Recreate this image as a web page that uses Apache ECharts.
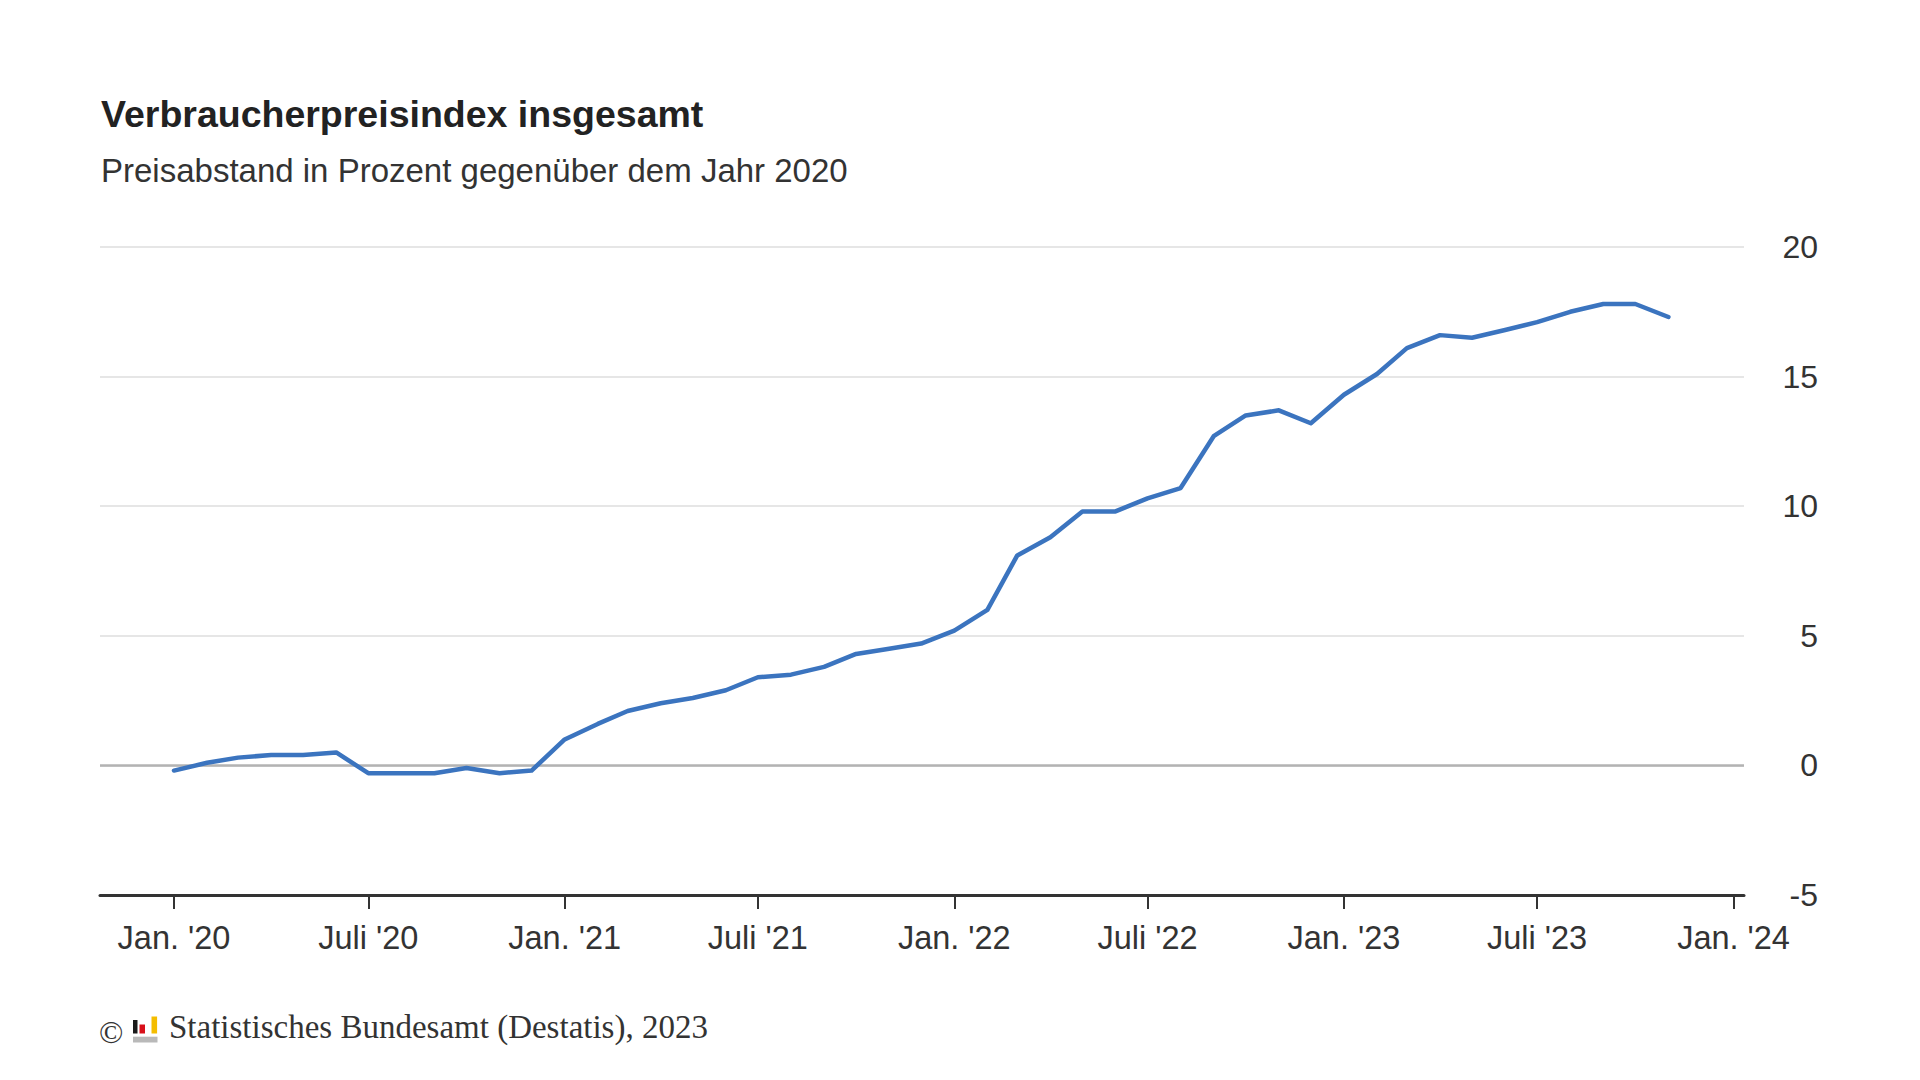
<!DOCTYPE html>
<html>
<head>
<meta charset="utf-8">
<script src="https://cdn.jsdelivr.net/npm/echarts@6/dist/echarts.min.js"></script>
<style>
html,body{margin:0;padding:0;background:#ffffff;}
#chart{width:1920px;height:1080px;}
</style>
</head>
<body>
<div id="chart"></div>
<script>
// ---- data ----
const months = [
  '2020-01','2020-02','2020-03','2020-04','2020-05','2020-06','2020-07','2020-08','2020-09','2020-10','2020-11','2020-12',
  '2021-01','2021-02','2021-03','2021-04','2021-05','2021-06','2021-07','2021-08','2021-09','2021-10','2021-11','2021-12',
  '2022-01','2022-02','2022-03','2022-04','2022-05','2022-06','2022-07','2022-08','2022-09','2022-10','2022-11','2022-12',
  '2023-01','2023-02','2023-03','2023-04','2023-05','2023-06','2023-07','2023-08','2023-09','2023-10','2023-11'
];
const values = [
  -0.2, 0.1, 0.3, 0.4, 0.4, 0.5, -0.3, -0.3, -0.3, -0.1, -0.3, -0.2,
  1.0, 1.6, 2.1, 2.4, 2.6, 2.9, 3.4, 3.5, 3.8, 4.3, 4.5, 4.7,
  5.2, 6.0, 8.1, 8.8, 9.8, 9.8, 10.3, 10.7, 12.7, 13.5, 13.7, 13.2,
  14.3, 15.1, 16.1, 16.6, 16.5, 16.8, 17.1, 17.5, 17.8, 17.8, 17.3
];
const tickMonths = ['2020-01','2020-07','2021-01','2021-07','2022-01','2022-07','2023-01','2023-07','2024-01'];
const tickLabels = ["Jan. '20","Juli '20","Jan. '21","Juli '21","Jan. '22","Juli '22","Jan. '23","Juli '23","Jan. '24"];
const yMin = -5, yMax = 20, yStep = 5;
const titleText = 'Verbraucherpreisindex insgesamt';
const subtitleText = 'Preisabstand in Prozent gegenüber dem Jahr 2020';
const sourceText = 'Statistisches Bundesamt (Destatis), 2023';

// ---- helpers: x position = days since 1 Jan 2020 (UTC, no DST issues) ----
function toDay(ym) {
  const p = ym.split('-');
  return Math.round((Date.UTC(+p[0], +p[1] - 1, 1) - Date.UTC(2020, 0, 1)) / 86400000);
}
const tickDays = tickMonths.map(toDay);
const seriesData = months.map((m, i) => [toDay(m), values[i]]);
const xMin = -69.3;
const xMax = 1470.8;

const SANS = "'Liberation Sans', Arial, Helvetica, sans-serif";
const SERIF = "'Liberation Serif', 'Times New Roman', serif";

const chart = echarts.init(document.getElementById('chart'), null, {renderer: 'svg'});
chart.setOption({
  backgroundColor: '#ffffff',
  animation: false,
  title: {
    text: titleText,
    subtext: subtitleText,
    left: 96,
    top: 90,
    itemGap: 21,
    textStyle: {fontFamily: SANS, fontSize: 37.5, fontWeight: 'bold', color: '#222222'},
    subtextStyle: {fontFamily: SANS, fontSize: 33, color: '#333333'}
  },
  grid: {left: 100, right: 176, top: 247, bottom: 185, containLabel: false},
  xAxis: {
    type: 'value',
    min: xMin,
    max: xMax,
    axisLine: {show: true, onZero: false, lineStyle: {color: '#333333', width: 3}},
    axisTick: {show: true, customValues: tickDays, length: 14, lineStyle: {color: '#333333', width: 2}},
    axisLabel: {
      customValues: tickDays,
      margin: 26,
      fontFamily: SANS,
      fontSize: 32.5,
      color: '#333333',
      formatter: function (v) {
        const idx = tickDays.indexOf(Math.round(v));
        return idx >= 0 ? tickLabels[idx] : '';
      }
    },
    splitLine: {show: false}
  },
  yAxis: {
    type: 'value',
    position: 'right',
    min: yMin,
    max: yMax,
    interval: yStep,
    axisLine: {show: false},
    axisTick: {show: false},
    axisLabel: {
      margin: 74,
      align: 'right',
      fontFamily: SANS,
      fontSize: 32,
      color: '#333333'
    },
    splitLine: {show: true, lineStyle: {color: '#dedede', width: 1.5}}
  },
  series: [{
    type: 'line',
    data: seriesData,
    showSymbol: false,
    symbol: 'none',
    z: 3,
    lineStyle: {color: '#3b74bf', width: 4.5, cap: 'round', join: 'round'},
    markLine: {
      silent: true,
      z: 1,
      symbol: 'none',
      label: {show: false},
      lineStyle: {color: '#b3b3b3', width: 2.5, type: 'solid'},
      data: [{yAxis: 0}]
    }
  }],
  graphic: [
    {type: 'text', left: 99, top: 1016, style: {text: '©', font: "32px " + SERIF, fill: '#333333'}},
    {type: 'rect', shape: {x: 133, y: 1020, width: 4.5, height: 13.5}, style: {fill: '#1a1a1a'}},
    {type: 'rect', shape: {x: 139.5, y: 1024.5, width: 5.5, height: 9}, style: {fill: '#d8101a'}},
    {type: 'rect', shape: {x: 151.5, y: 1016.5, width: 5.6, height: 17}, style: {fill: '#f4bd00'}},
    {type: 'rect', shape: {x: 133, y: 1036.7, width: 24.5, height: 5.8}, style: {fill: '#b9b9b9'}},
    {type: 'text', left: 169, top: 1010, style: {text: sourceText, font: "33px " + SERIF, fill: '#333333'}}
  ]
});
</script>
</body>
</html>
